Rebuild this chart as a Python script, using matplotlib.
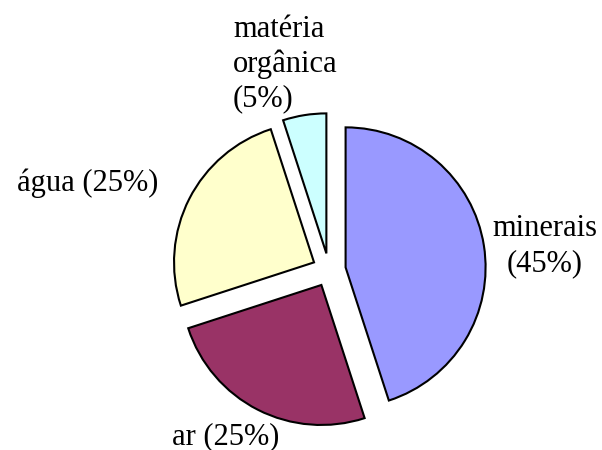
import matplotlib
matplotlib.use('Agg')
import matplotlib.pyplot as plt

nomes = ['minerais', 'ar', 'água', 'matéria\norgânica']
valores = [45, 25, 25, 5]
cores = ['#9999FF', '#993366', '#FFFFCC', '#CCFFFF']

plt.rcParams['font.family'] = ['Liberation Serif', 'DejaVu Serif']

fig = plt.figure(figsize=(6.02, 4.5), dpi=100)
ax = fig.add_axes([0, 0, 1, 1])

# centro do pie em pixels e raio
cx, cy, R = 329, 270, 140
ax.pie(valores, colors=cores, startangle=90, counterclock=False,
       explode=[0.12] * 4, radius=1,
       wedgeprops={'edgecolor': 'black', 'linewidth': 1.5})

def px(x, y):
    return (x - cx) / R, (cy - y) / R

rotulos = ['minerais\n(45%)', 'ar (25%)', 'água (25%)', 'matéria\norgânica\n(5%)']
posicoes = [(545, 246, 'center'), (226, 437, 'center'), (88, 183, 'center'), (233, 64, 'left')]
for t, (x, y, ha) in zip(rotulos, posicoes):
    tx, ty = px(x, y)
    ax.text(tx, ty, t, ha=ha, va='center', multialignment=ha,
            fontsize=22, linespacing=1.25)

ax.set_xlim(-cx / R, (602 - cx) / R)
ax.set_ylim(-(450 - cy) / R, cy / R)
ax.set_aspect('auto')
ax.axis('off')
plt.savefig('out.png', dpi=100)
